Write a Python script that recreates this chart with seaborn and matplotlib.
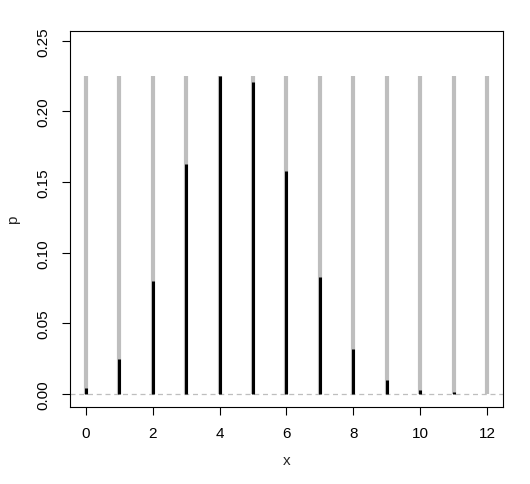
import matplotlib
matplotlib.use("Agg")
import matplotlib.pyplot as plt
import seaborn as sns
import numpy as np

x_vals = [0, 1, 2, 3, 4, 5, 6, 7, 8, 9, 10, 11, 12]
p_vals = [0.0040, 0.0245, 0.0800, 0.1630, 0.2250, 0.2210, 0.1580,
          0.0830, 0.0320, 0.0095, 0.0025, 0.0012, 0.0002]
x_ticks = [0, 2, 4, 6, 8, 10, 12]
y_ticks = [0.00, 0.05, 0.10, 0.15, 0.20, 0.25]

sns.set_style("ticks")
plt.rcParams['font.family'] = ['Liberation Sans', 'DejaVu Sans']

fig = plt.figure(figsize=(5.3, 4.85), dpi=100)
ax = fig.add_axes([0.132, 0.159, 0.817, 0.775])

pmax = max(p_vals)
ax.vlines(x_vals, 0, pmax, color="#bebebe", linewidth=3.0, zorder=1)
ax.vlines(x_vals, 0, p_vals, color="black", linewidth=2.2, zorder=2)
ax.axhline(0, color="#bebebe", linestyle=(0, (4, 3)), linewidth=0.9, zorder=0)

ax.set_xlim(-0.48, 12.48)
ax.set_ylim(-0.0092, 0.257)
ax.set_xticks(x_ticks)
ax.set_xticklabels([str(t) for t in x_ticks])
ax.set_yticks(y_ticks)
ax.set_yticklabels([f"{t:.2f}" for t in y_ticks], rotation=90, va="center")
ax.tick_params(axis="both", labelsize=11, length=6, width=0.8, color="black",
               labelcolor="black", direction="out", pad=8)
for s in ax.spines.values():
    s.set_visible(True)
    s.set_color("black")
    s.set_linewidth(0.8)
ax.set_xlabel("x", fontsize=11, labelpad=9)
ax.set_ylabel("p", fontsize=11, labelpad=12)

fig.savefig("out.png", dpi=100)
